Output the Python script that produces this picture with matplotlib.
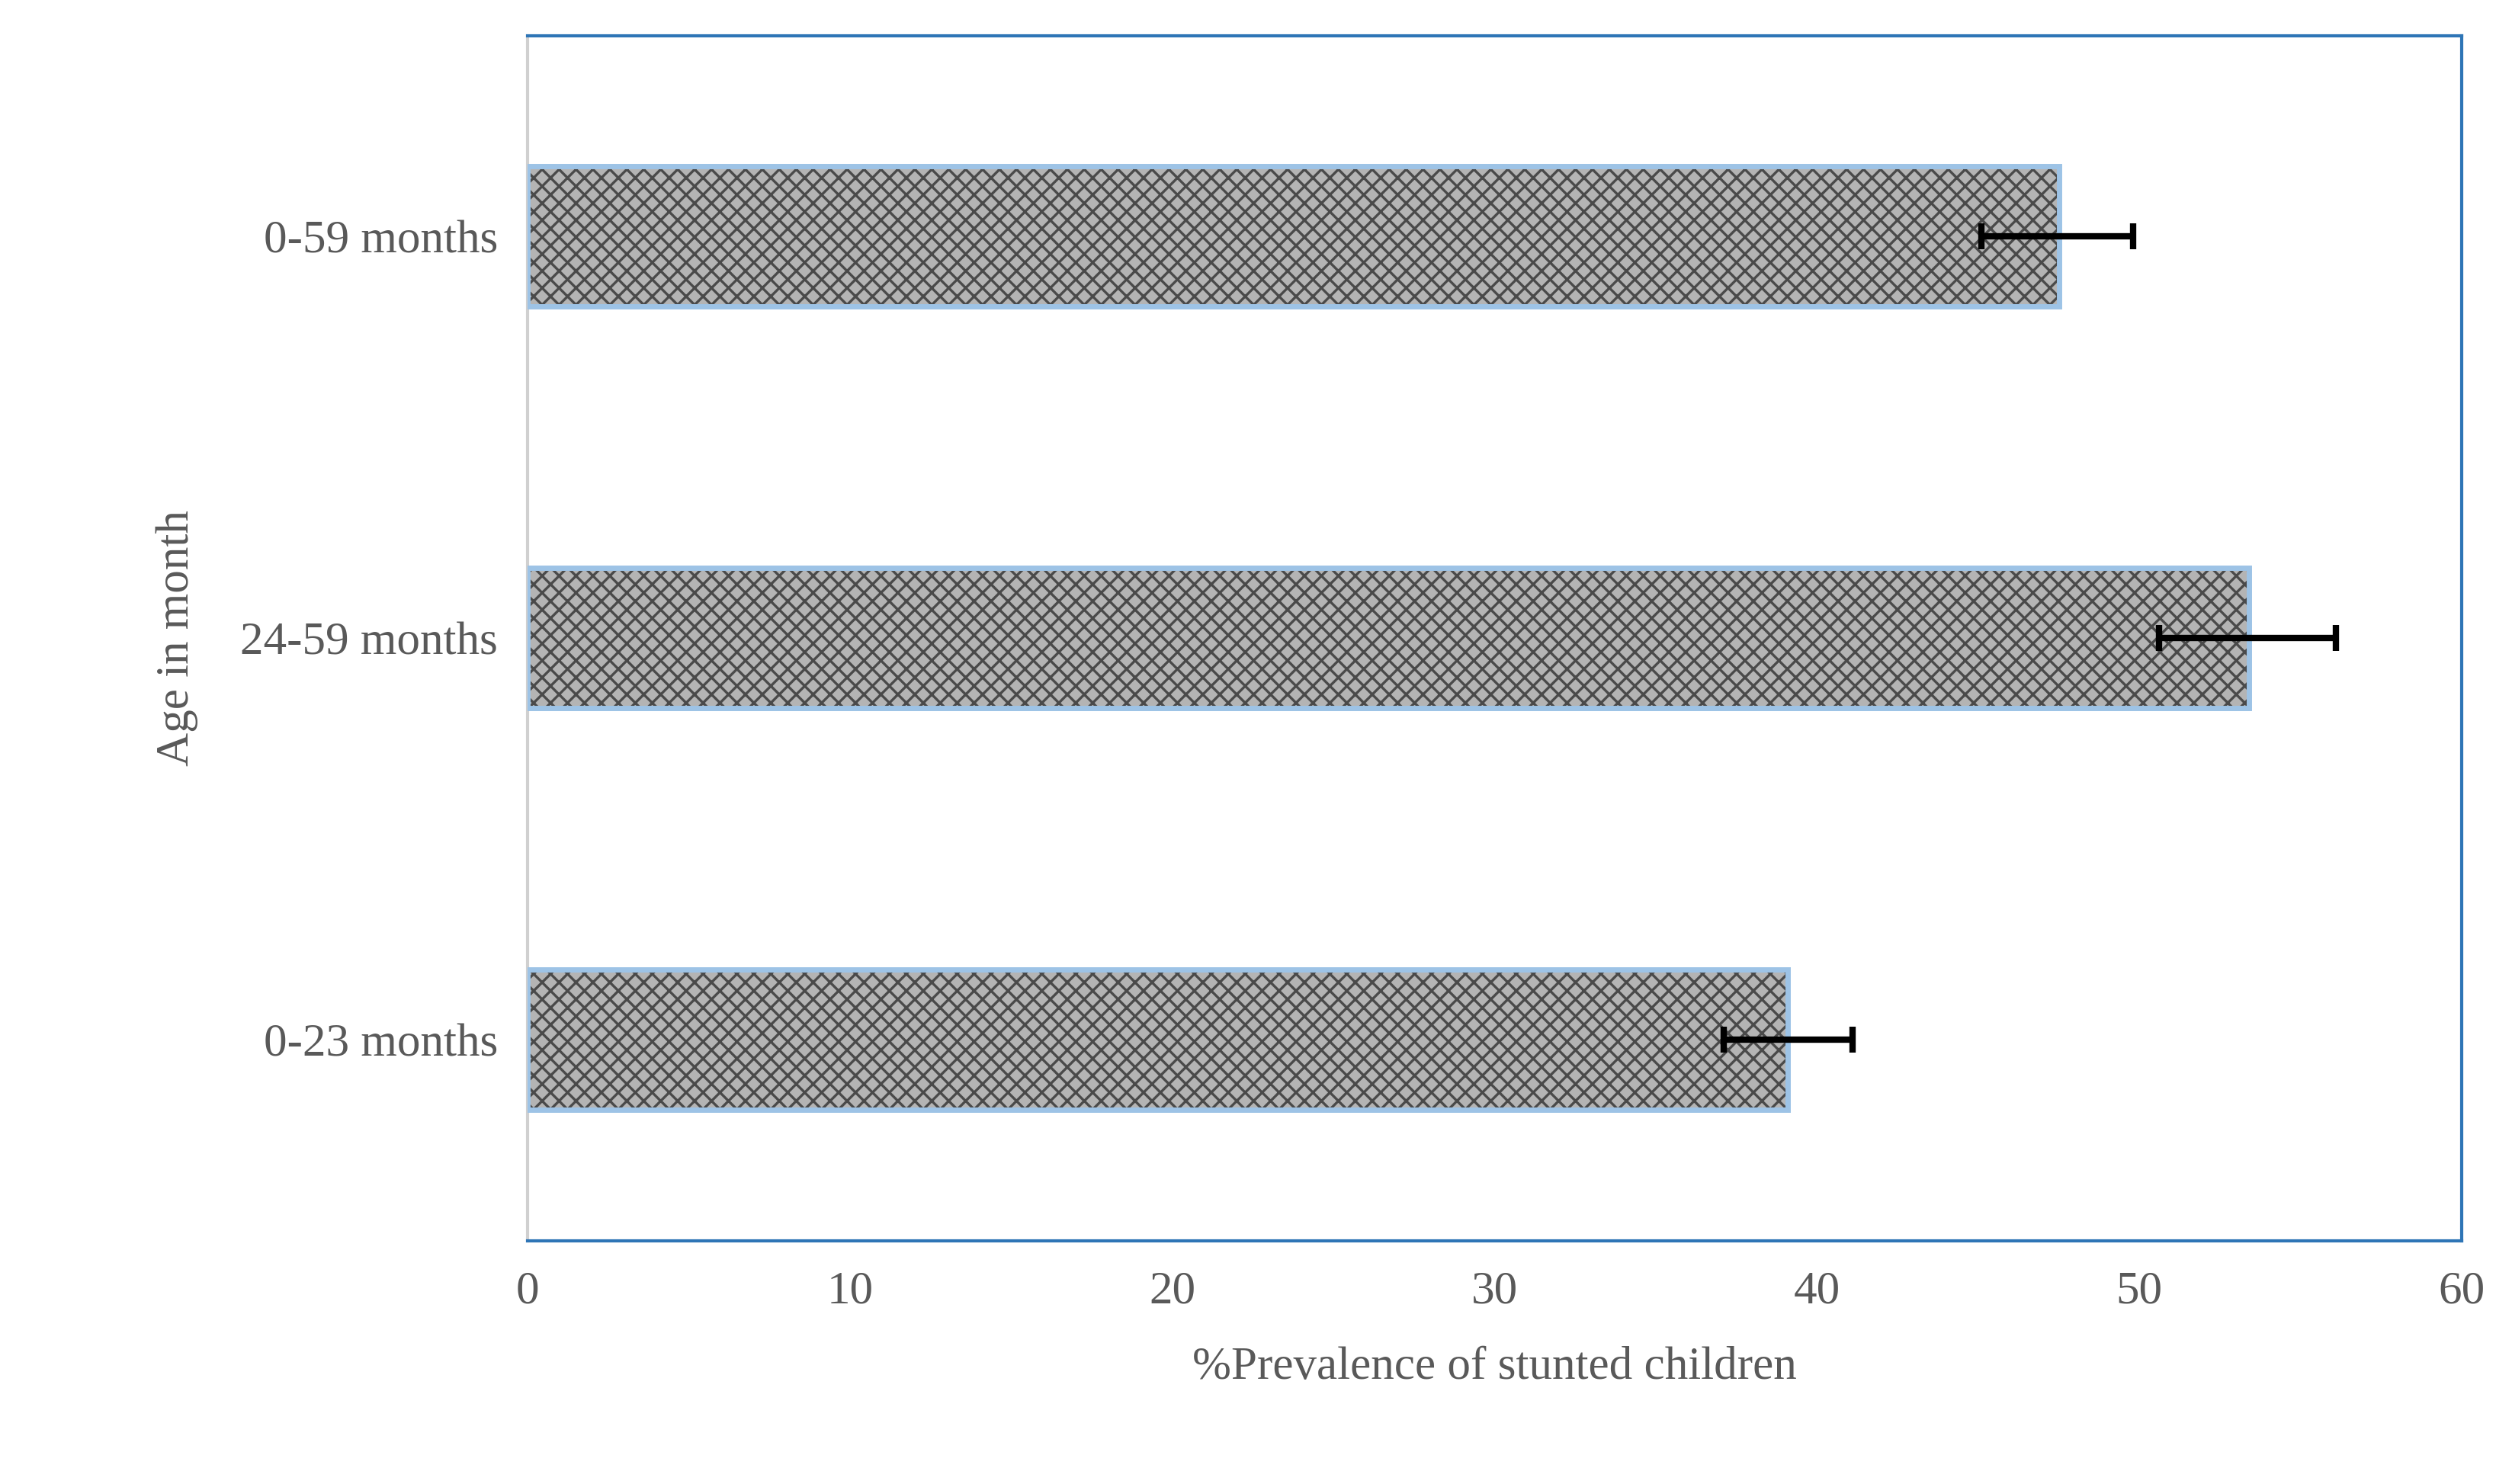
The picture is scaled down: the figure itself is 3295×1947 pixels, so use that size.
import matplotlib
matplotlib.use("Agg")
import matplotlib.pyplot as plt

categories = ["0-23 months", "24-59 months", "0-59 months"]
values = [39.1, 53.4, 47.5]
err_low = [37.1, 50.6, 45.1]
err_high = [41.1, 56.1, 49.8]

plt.rcParams['font.family'] = ['Liberation Serif', 'DejaVu Serif']
plt.rcParams['hatch.linewidth'] = 1.2
fig = plt.figure(figsize=(16.475, 9.735), dpi=200)
ax = fig.add_axes([0.21, 0.164, 0.77, 0.812])
y = list(range(len(categories)))
ax.barh(y, values, height=0.35, color='#b4b4b4', hatch='xxx', edgecolor='#4a4a4a', linewidth=0, zorder=2)
ax.barh(y, values, height=0.35, fill=False, edgecolor='#9dc3e6', linewidth=2.5, zorder=3)
for yi, lo, hi in zip(y, err_low, err_high):
    ax.errorbar((lo + hi) / 2, yi, xerr=[[(hi - lo) / 2], [(hi - lo) / 2]], fmt='none',
                ecolor='black', elinewidth=3, capsize=6, capthick=3, zorder=4)
ax.set_xlim(0, 60)
ax.set_ylim(-0.5, 2.5)
ax.set_xticks(range(0, 61, 10))
ax.set_yticks(y)
ax.set_yticklabels(categories)
ax.tick_params(length=0, labelsize=22, colors='#595959', pad=14)
ax.set_xlabel('%Prevalence of stunted children', fontsize=22, color='#595959', labelpad=16)
ax.set_ylabel('Age in month', fontsize=22, color='#595959', labelpad=20)
for s in ['top', 'right', 'bottom']:
    ax.spines[s].set_color('#2e75b6')
    ax.spines[s].set_linewidth(1.5)
ax.spines['left'].set_color('#d0d0d0')
ax.spines['left'].set_linewidth(1.5)
fig.savefig('out.png', dpi=200)
